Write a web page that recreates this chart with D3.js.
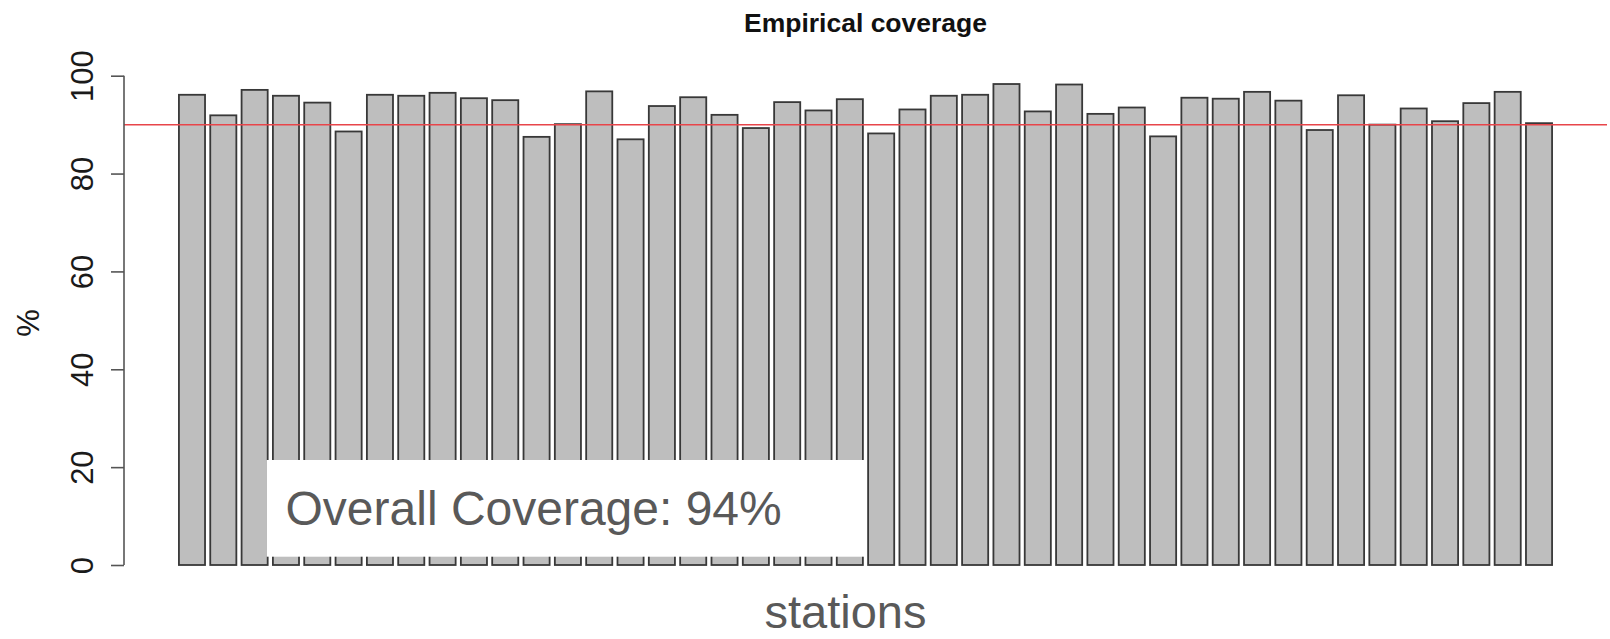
<!DOCTYPE html>
<html>
<head>
<meta charset="utf-8">
<script src="https://cdn.jsdelivr.net/npm/d3@7"></script>
<style>
  html, body { margin: 0; padding: 0; background: #ffffff; }
  svg { display: block; }
</style>
</head>
<body>
<script>
// Per-station empirical coverage (%)
const stations = d3.range(1, 45).map(i => "S" + i);
const coverage = [
  96.1, 91.9, 97.1, 95.9, 94.5, 88.6, 96.1, 95.9, 96.5, 95.4, 95.0,
  87.5, 90.1, 96.8, 87.0, 93.8, 95.6, 92.0, 89.3, 94.6, 92.9, 95.2,
  88.2, 93.1, 95.9, 96.1, 98.3, 92.7, 98.2, 92.2, 93.5, 87.6, 95.5,
  95.3, 96.7, 94.9, 88.9, 96.0, 90.0, 93.3, 90.7, 94.4, 96.7, 90.3
];
const nominalLevel = [90];
const yTicks = [0, 20, 40, 60, 80, 100];
const titleText = "Empirical coverage";
const yLabel = "%";
const xLabel = "stations";
const overallText = "Overall Coverage: 94%";

const W = 1610, H = 639;
const svg = d3.select("body").append("svg")
  .attr("width", W).attr("height", H)
  .style("font-family", "'Liberation Sans', Arial, Helvetica, sans-serif");

// barplot layout: unit-width bars separated by 0.2 spaces
const barW = 1, gap = 0.2;
const leftOf = i => gap + i * (barW + gap);
const xMin = gap, xMax = leftOf(coverage.length - 1) + barW;
const pad = (xMax - xMin) * 0.04;
const plotLeft = 124, plotRight = 1607;
const x = d3.scaleLinear().domain([xMin - pad, xMax + pad]).range([plotLeft, plotRight]);
const y = d3.scaleLinear().domain([0, 100]).range([565, 75.7]);

// bars
svg.append("g").selectAll("rect")
  .data(coverage)
  .join("rect")
  .attr("x", (d, i) => x(leftOf(i)))
  .attr("y", d => y(d))
  .attr("width", x(barW) - x(0))
  .attr("height", d => y(0) - y(d))
  .attr("fill", "#bebebe")
  .attr("stroke", "#383838")
  .attr("stroke-width", 1.8);

// nominal level reference line
svg.append("g").selectAll("line")
  .data(nominalLevel)
  .join("line")
  .attr("x1", plotLeft).attr("x2", plotRight)
  .attr("y1", d => y(d)).attr("y2", d => y(d))
  .attr("stroke", "#e8454a")
  .attr("stroke-width", 1.5);

// y axis
const yAxis = d3.axisLeft(y).tickValues(yTicks).tickSize(13).tickPadding(0);
const gy = svg.append("g")
  .attr("transform", `translate(${plotLeft},0)`)
  .call(yAxis);
gy.select(".domain")
  .attr("d", `M0,${y(0)}V${y(100)}`)
  .attr("stroke", "#555").attr("stroke-width", 1.6);
gy.selectAll(".tick line").attr("stroke", "#555").attr("stroke-width", 1.6);
gy.selectAll(".tick text")
  .attr("x", 0).attr("dy", 0)
  .attr("transform", `translate(${93 - plotLeft},0) rotate(-90)`)
  .attr("text-anchor", "middle")
  .attr("font-size", 31)
  .attr("font-family", "'Liberation Sans', Arial, sans-serif")
  .attr("fill", "#1a1a1a");

// y label
svg.append("text")
  .attr("transform", `translate(39,323) rotate(-90)`)
  .attr("text-anchor", "middle")
  .attr("font-size", 31)
  .attr("fill", "#1a1a1a")
  .text(yLabel);

// title
svg.append("text")
  .attr("x", (plotLeft + plotRight) / 2).attr("y", 32)
  .attr("text-anchor", "middle")
  .attr("font-size", 26.5)
  .attr("font-weight", "bold")
  .attr("fill", "#111")
  .text(titleText);

// x label
svg.append("text")
  .attr("x", 845.5).attr("y", 628)
  .attr("text-anchor", "middle")
  .attr("font-size", 47)
  .attr("fill", "#595959")
  .text(xLabel);

// overall coverage callout
svg.append("rect")
  .attr("x", 266.7).attr("y", 460)
  .attr("width", 600).attr("height", 96.7)
  .attr("fill", "#ffffff");
svg.append("text")
  .attr("x", 285.5).attr("y", 525)
  .attr("font-size", 48)
  .attr("fill", "#595959")
  .text(overallText);
</script>
</body>
</html>
